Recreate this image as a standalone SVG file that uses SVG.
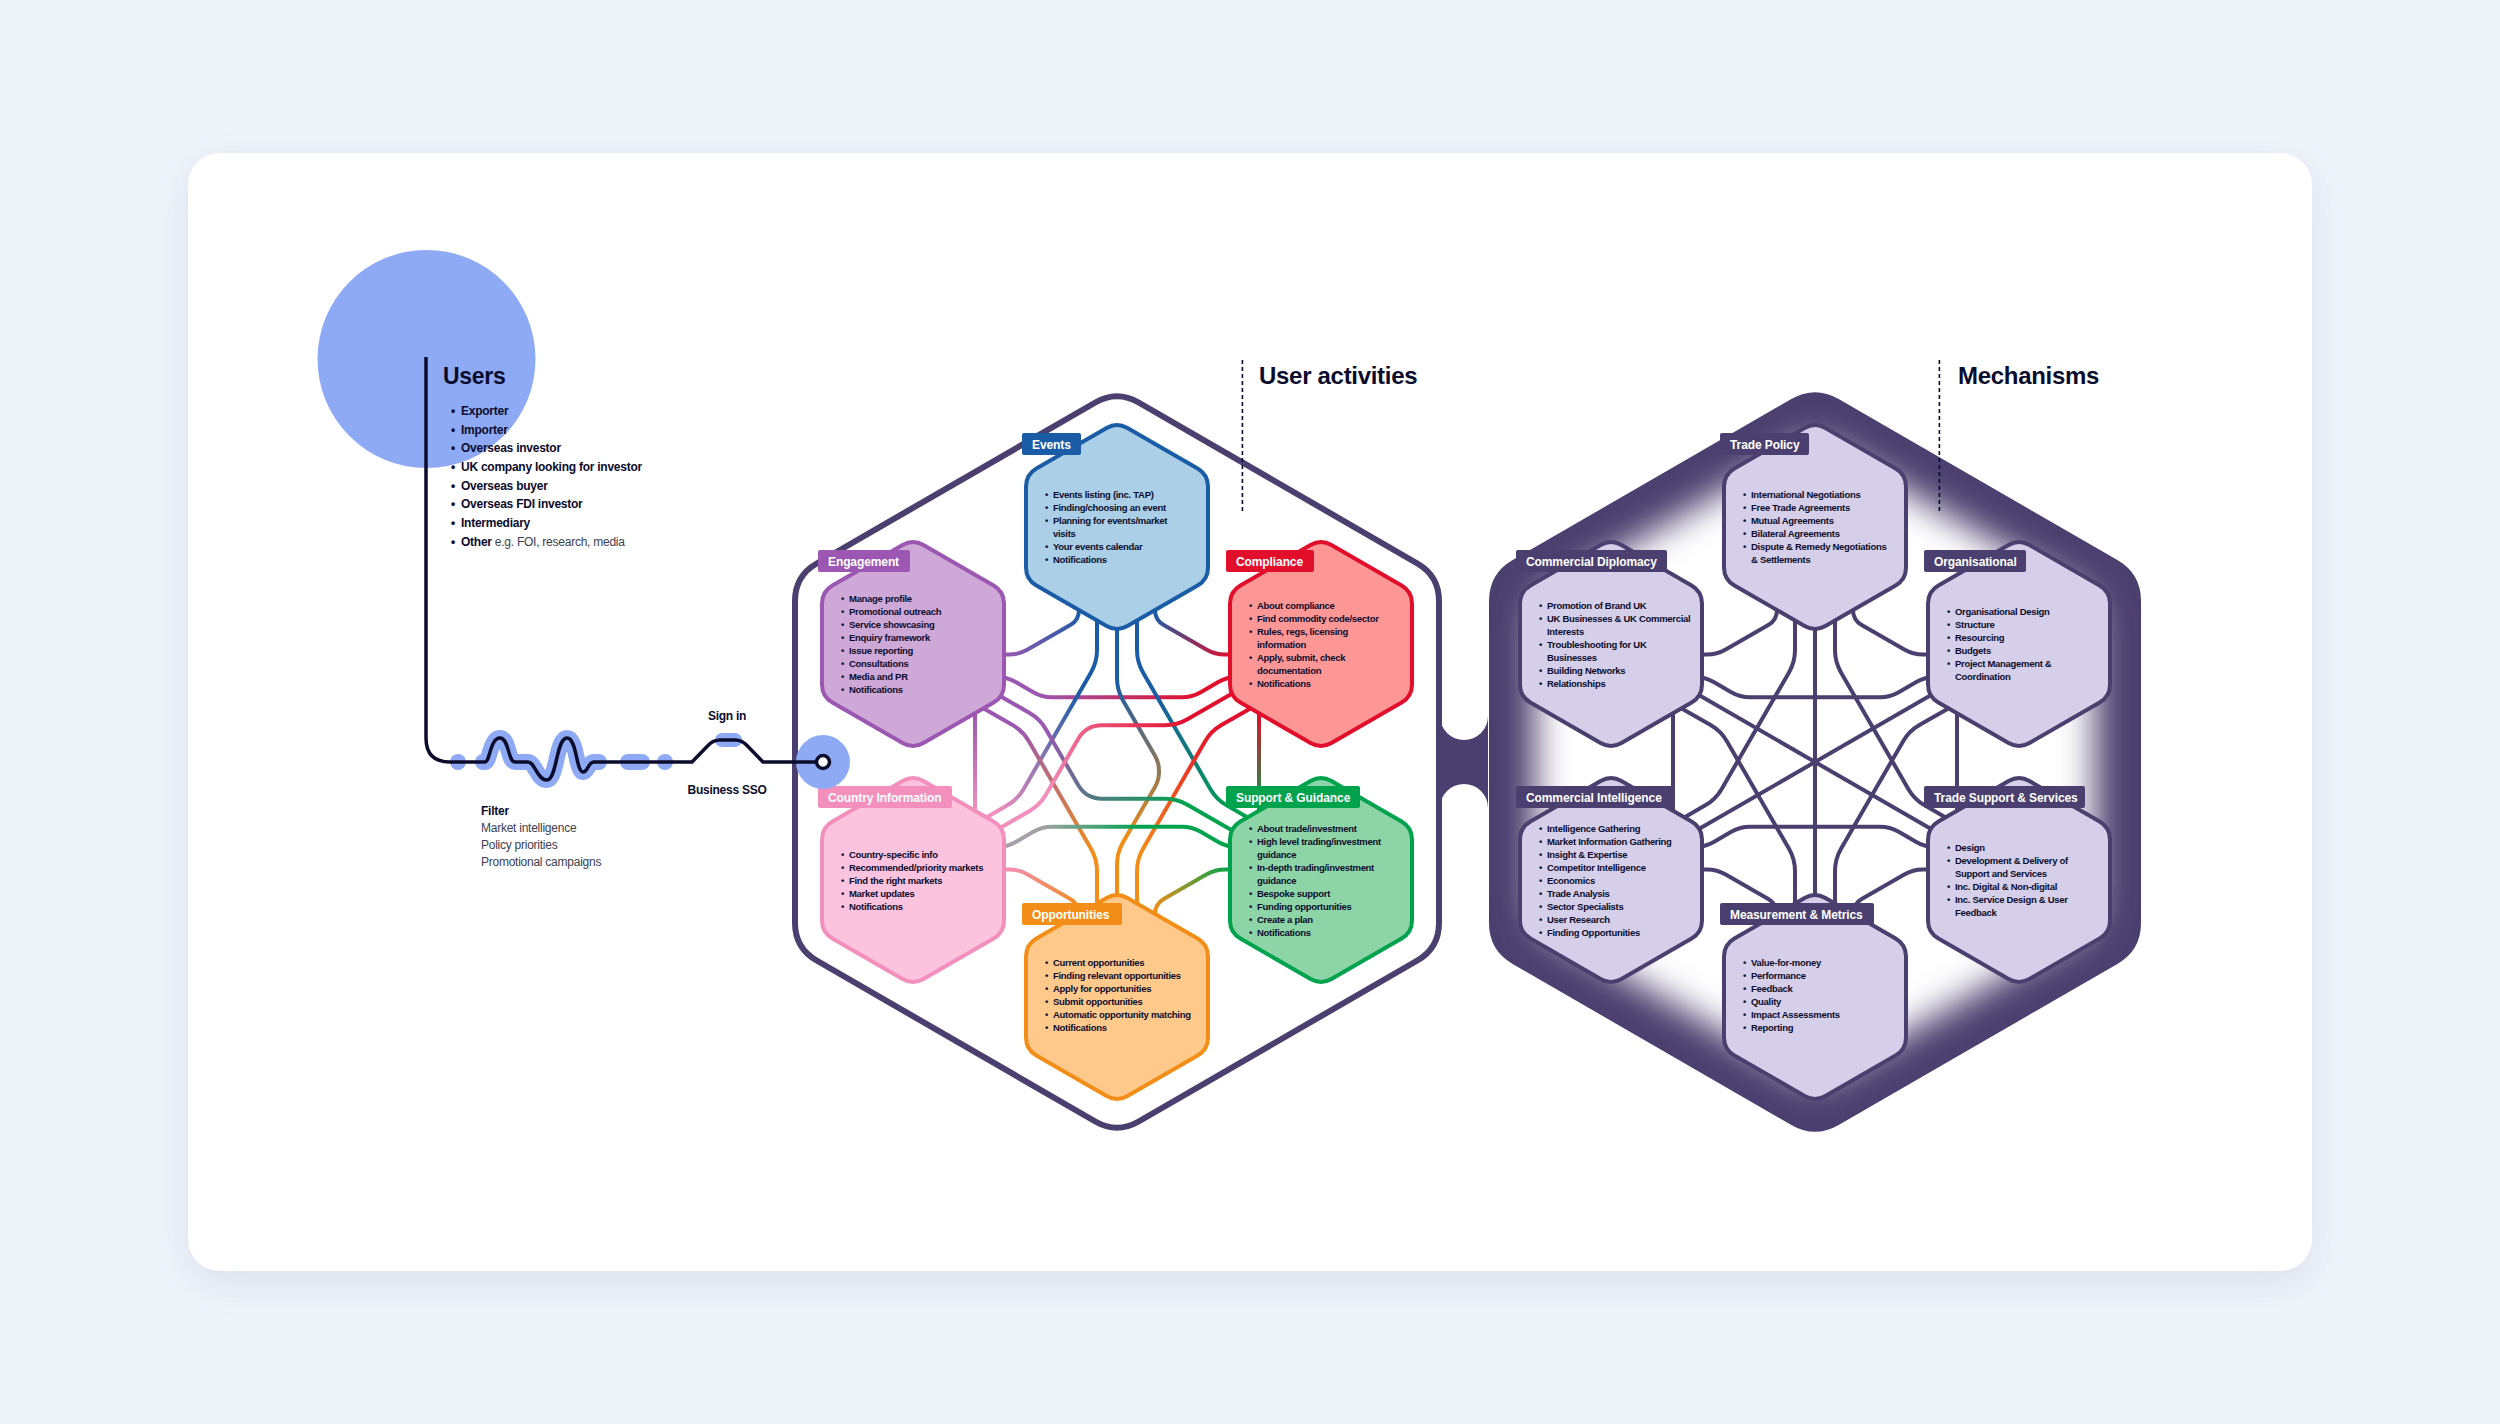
<svg xmlns="http://www.w3.org/2000/svg" width="2500" height="1424" viewBox="0 0 2500 1424">
<defs>
<style>
.it{font-family:"Liberation Sans",Arial,sans-serif;font-size:9.5px;font-weight:700;fill:#0b0c2c;letter-spacing:-0.3px;}
.lb{font-family:"Liberation Sans",Arial,sans-serif;font-size:12px;font-weight:700;fill:#ffffff;letter-spacing:-0.1px;}
.ut{font-family:"Liberation Sans",Arial,sans-serif;font-size:12px;font-weight:700;fill:#0b0c2c;letter-spacing:-0.25px;}
.rg{font-weight:400;fill:#3b3e4f;}
.ttl{font-family:"Liberation Sans",Arial,sans-serif;font-size:24px;font-weight:700;fill:#0b0c2c;letter-spacing:-0.3px;}
.cn{fill:none;stroke-width:4;stroke-linecap:round;stroke-linejoin:round;}
.mc{stroke:#4a3f6e;}
.hxs{stroke-width:4;}
.dash{stroke:#0b0c2c;stroke-width:1.6;stroke-dasharray:4 3;fill:none;}
</style>
<filter id="shadow" x="-5%" y="-5%" width="110%" height="115%"><feDropShadow dx="0" dy="12" stdDeviation="18" flood-color="#7d8db0" flood-opacity="0.18"/></filter>
<filter id="glow" x="-20%" y="-20%" width="140%" height="140%"><feGaussianBlur stdDeviation="20"/></filter>
<path id="hx" d="M-10.4,-99 Q0,-105 10.4,-99 L80.6,-58.5 Q91,-52.5 91,-40.5 L91,40.5 Q91,52.5 80.6,58.5 L10.4,99 Q0,105 -10.4,99 L-80.6,58.5 Q-91,52.5 -91,40.5 L-91,-40.5 Q-91,-52.5 -80.6,-58.5 Z"/>
<path id="bh" d="M-21.65,-359.5 Q0,-372 21.65,-359.5 L300.35,-198.5 Q322,-186 322,-161 L322,161 Q322,186 300.35,198.5 L21.65,359.5 Q0,372 -21.65,359.5 L-300.35,198.5 Q-322,186 -322,161 L-322,-161 Q-322,-186 -300.35,-198.5 Z"/>
<linearGradient id="g1" gradientUnits="userSpaceOnUse" x1="-38" y1="-150" x2="-115" y2="-107"><stop offset="0" stop-color="#1b5ca6"/><stop offset="1" stop-color="#9b57b1"/></linearGradient>
<linearGradient id="g2" gradientUnits="userSpaceOnUse" x1="38" y1="-150" x2="115" y2="-107"><stop offset="0" stop-color="#1b5ca6"/><stop offset="1" stop-color="#e20f2c"/></linearGradient>
<linearGradient id="g3" gradientUnits="userSpaceOnUse" x1="-113" y1="-85" x2="113" y2="-85"><stop offset="0.15" stop-color="#9b57b1"/><stop offset="0.85" stop-color="#e20f2c"/></linearGradient>
<linearGradient id="g4" gradientUnits="userSpaceOnUse" x1="-20" y1="-130" x2="-125" y2="52"><stop offset="0.3" stop-color="#1b5ca6"/><stop offset="1" stop-color="#f38fbd"/></linearGradient>
<linearGradient id="g5" gradientUnits="userSpaceOnUse" x1="20" y1="-130" x2="125" y2="52"><stop offset="0.3" stop-color="#1b5ca6"/><stop offset="1" stop-color="#00a34d"/></linearGradient>
<linearGradient id="g6" gradientUnits="userSpaceOnUse" x1="0" y1="-130" x2="0" y2="130"><stop offset="0.2" stop-color="#1b5ca6"/><stop offset="0.8" stop-color="#f28e17"/></linearGradient>
<linearGradient id="g7" gradientUnits="userSpaceOnUse" x1="-133" y1="-53" x2="-20" y2="130"><stop offset="0.15" stop-color="#9b57b1"/><stop offset="0.85" stop-color="#f28e17"/></linearGradient>
<linearGradient id="g8" gradientUnits="userSpaceOnUse" x1="133" y1="-53" x2="20" y2="130"><stop offset="0.15" stop-color="#e20f2c"/><stop offset="0.85" stop-color="#f28e17"/></linearGradient>
<linearGradient id="g9" gradientUnits="userSpaceOnUse" x1="-110" y1="-62" x2="113" y2="67"><stop offset="0.2" stop-color="#9b57b1"/><stop offset="0.8" stop-color="#00a34d"/></linearGradient>
<linearGradient id="g10" gradientUnits="userSpaceOnUse" x1="-110" y1="62" x2="113" y2="-67"><stop offset="0.2" stop-color="#f38fbd"/><stop offset="0.8" stop-color="#e20f2c"/></linearGradient>
<linearGradient id="g11" gradientUnits="userSpaceOnUse" x1="-113" y1="85" x2="113" y2="85"><stop offset="0.15" stop-color="#a8a0a8"/><stop offset="0.6" stop-color="#00a34d"/></linearGradient>
<linearGradient id="g12" gradientUnits="userSpaceOnUse" x1="-115" y1="107" x2="-38" y2="150"><stop offset="0" stop-color="#f38fbd"/><stop offset="1" stop-color="#f28e17"/></linearGradient>
<linearGradient id="g13" gradientUnits="userSpaceOnUse" x1="115" y1="107" x2="38" y2="150"><stop offset="0" stop-color="#00a34d"/><stop offset="1" stop-color="#f28e17"/></linearGradient>
<linearGradient id="g14" gradientUnits="userSpaceOnUse" x1="-142" y1="-50" x2="-142" y2="50"><stop offset="0" stop-color="#9b57b1"/><stop offset="1" stop-color="#f38fbd"/></linearGradient>
<linearGradient id="g15" gradientUnits="userSpaceOnUse" x1="142" y1="-50" x2="142" y2="50"><stop offset="0" stop-color="#e20f2c"/><stop offset="1" stop-color="#00a34d"/></linearGradient>
</defs>

<rect width="2500" height="1424" fill="#eff3fa"/>
<rect x="188" y="153" width="2124" height="1118" rx="32" fill="#ffffff" filter="url(#shadow)"/>

<!-- big hexagons -->
<g id="user-activities-frame">
<use href="#bh" x="1117" y="762" fill="#ffffff" stroke="#4a3f6e" stroke-width="6"/>
</g>
<g id="mechanisms-frame">
<use href="#bh" x="1815" y="762" fill="#4a3f6e" stroke="#4a3f6e" stroke-width="8"/>
<use href="#bh" transform="translate(1815,762) scale(0.87)" fill="#ffffff" filter="url(#glow)"/>
<path d="M1440,716 A24,24 0 0 0 1488,716 L1488,808 A24,24 0 0 0 1440,808 Z" fill="#4a3f6e"/>
</g>

<!-- connectors -->
<g id="connectors">
<g transform="translate(1117,762)">
<path class="cn" stroke="url(#g1)" d="M-38,-160 L-38,-152 Q-38,-142 -46.7,-137 L-89.3,-112.4 Q-98,-107.4 -108,-107.4 L-130,-107.4"/>
<path class="cn" stroke="url(#g2)" d="M38,-160 L38,-152 Q38,-142 46.7,-137 L89.3,-112.4 Q98,-107.4 108,-107.4 L130,-107.4"/>
<path class="cn" stroke="url(#g3)" d="M-130,-85 L-120,-85 Q-110,-85 -101.3,-80 L-83.7,-69.8 Q-75,-64.8 -65,-64.8 L65,-64.8 Q75,-64.8 83.7,-69.8 L101.3,-80 Q110,-85 120,-85 L130,-85"/>
<path class="cn" stroke="url(#g4)" d="M-20,-160 L-20,-112 Q-20,-100 -26,-89.6 L-93.3,26.9 Q-99.3,37.3 -109.7,43.3 L-135,58"/>
<path class="cn" stroke="url(#g5)" d="M20,-160 L20,-112 Q20,-100 26,-89.6 L93.3,26.9 Q99.3,37.3 109.7,43.3 L135,58"/>
<path class="cn" stroke="url(#g6)" d="M0,-160 L0,-84 Q0,-72 6,-61.6 L38,-6.2 Q42,0.7 42,8.7 L42,10 Q42,18 38,24.9 L6,80.3 Q0,90.7 0,102.7 L0,160"/>
<path class="cn" stroke="url(#g7)" d="M-150,-63 L-104.4,-37 Q-94,-31 -88,-20.6 L-26,86.8 Q-20,97.2 -20,109.2 L-20,160"/>
<path class="cn" stroke="url(#g8)" d="M150,-63 L104.4,-37 Q94,-31 88,-20.6 L26,86.8 Q20,97.2 20,109.2 L20,160"/>
<path class="cn" stroke="url(#g9)" d="M-130,-73.5 L-87.4,-49 Q-77,-43 -71,-32.6 L-39,22.8 Q-31,36.7 -15,36.7 L48,36.7 Q60,36.7 70.4,42.7 L130,77"/>
<path class="cn" stroke="url(#g10)" d="M-130,73.5 L-87.4,49 Q-77,43 -71,32.6 L-39,-22.8 Q-31,-36.7 -15,-36.7 L48,-36.7 Q60,-36.7 70.4,-42.7 L130,-77"/>
<path class="cn" stroke="url(#g11)" d="M-130,85 L-120,85 Q-110,85 -101.3,80 L-83.7,69.8 Q-75,64.8 -65,64.8 L65,64.8 Q75,64.8 83.7,69.8 L101.3,80 Q110,85 120,85 L130,85"/>
<path class="cn" stroke="url(#g12)" d="M-38,160 L-38,152 Q-38,142 -46.7,137 L-89.3,112.4 Q-98,107.4 -108,107.4 L-130,107.4"/>
<path class="cn" stroke="url(#g13)" d="M38,160 L38,152 Q38,142 46.7,137 L89.3,112.4 Q98,107.4 108,107.4 L130,107.4"/>
<path class="cn" stroke="url(#g14)" d="M-142,-60 L-142,60"/>
<path class="cn" stroke="url(#g15)" d="M142,-60 L142,60"/>
</g>
<g transform="translate(1815,762)">
<path class="cn mc" d="M-38,-160 L-38,-152 Q-38,-142 -46.7,-137 L-89.3,-112.4 Q-98,-107.4 -108,-107.4 L-130,-107.4"/>
<path class="cn mc" d="M38,-160 L38,-152 Q38,-142 46.7,-137 L89.3,-112.4 Q98,-107.4 108,-107.4 L130,-107.4"/>
<path class="cn mc" d="M-130,-85 L-120,-85 Q-110,-85 -101.3,-80 L-83.7,-69.8 Q-75,-64.8 -65,-64.8 L65,-64.8 Q75,-64.8 83.7,-69.8 L101.3,-80 Q110,-85 120,-85 L130,-85"/>
<path class="cn mc" d="M-20,-160 L-20,-112 Q-20,-100 -26,-89.6 L-93.3,26.9 Q-99.3,37.3 -109.7,43.3 L-135,58"/>
<path class="cn mc" d="M20,-160 L20,-112 Q20,-100 26,-89.6 L93.3,26.9 Q99.3,37.3 109.7,43.3 L135,58"/>
<path class="cn mc" d="M0,-160 L0,160"/>
<path class="cn mc" d="M-150,-63 L-104.4,-37 Q-94,-31 -88,-20.6 L-26,86.8 Q-20,97.2 -20,109.2 L-20,160"/>
<path class="cn mc" d="M150,-63 L104.4,-37 Q94,-31 88,-20.6 L26,86.8 Q20,97.2 20,109.2 L20,160"/>
<path class="cn mc" d="M-130,-75 L130,75"/>
<path class="cn mc" d="M-130,75 L130,-75"/>
<path class="cn mc" d="M-130,85 L-120,85 Q-110,85 -101.3,80 L-83.7,69.8 Q-75,64.8 -65,64.8 L65,64.8 Q75,64.8 83.7,69.8 L101.3,80 Q110,85 120,85 L130,85"/>
<path class="cn mc" d="M-38,160 L-38,152 Q-38,142 -46.7,137 L-89.3,112.4 Q-98,107.4 -108,107.4 L-130,107.4"/>
<path class="cn mc" d="M38,160 L38,152 Q38,142 46.7,137 L89.3,112.4 Q98,107.4 108,107.4 L130,107.4"/>
<path class="cn mc" d="M-142,-60 L-142,60"/>
<path class="cn mc" d="M142,-60 L142,60"/>
</g>
</g>

<!-- user activities nodes -->
<g id="events">
<use href="#hx" x="1117" y="527" fill="#aacfe6" stroke="#1b5ca6" class="hxs"/>
<rect x="1022" y="433" width="59" height="22" rx="2" fill="#1b5ca6"/>
<text class="lb" x="1032" y="448.5">Events</text>
<text class="it"><tspan x="1045" y="498">•</tspan><tspan x="1053">Events listing (inc. TAP)</tspan><tspan x="1045" y="511">•</tspan><tspan x="1053">Finding/choosing an event</tspan><tspan x="1045" y="524">•</tspan><tspan x="1053">Planning for events/market</tspan><tspan x="1053" y="537">visits</tspan><tspan x="1045" y="550">•</tspan><tspan x="1053">Your events calendar</tspan><tspan x="1045" y="563">•</tspan><tspan x="1053">Notifications</tspan></text>
</g>
<g id="engagement">
<use href="#hx" x="913" y="644" fill="#cea8d6" stroke="#9b57b1" class="hxs"/>
<rect x="818" y="550" width="92" height="22" rx="2" fill="#9b57b1"/>
<text class="lb" x="828" y="565.5">Engagement</text>
<text class="it"><tspan x="841" y="602">•</tspan><tspan x="849">Manage profile</tspan><tspan x="841" y="615">•</tspan><tspan x="849">Promotional outreach</tspan><tspan x="841" y="628">•</tspan><tspan x="849">Service showcasing</tspan><tspan x="841" y="641">•</tspan><tspan x="849">Enquiry framework</tspan><tspan x="841" y="654">•</tspan><tspan x="849">Issue reporting</tspan><tspan x="841" y="667">•</tspan><tspan x="849">Consultations</tspan><tspan x="841" y="680">•</tspan><tspan x="849">Media and PR</tspan><tspan x="841" y="693">•</tspan><tspan x="849">Notifications</tspan></text>
</g>
<g id="compliance">
<use href="#hx" x="1321" y="644" fill="#fd9796" stroke="#e20f2c" class="hxs"/>
<rect x="1226" y="550" width="88" height="22" rx="2" fill="#e20f2c"/>
<text class="lb" x="1236" y="565.5">Compliance</text>
<text class="it"><tspan x="1249" y="608.5">•</tspan><tspan x="1257">About compliance</tspan><tspan x="1249" y="621.5">•</tspan><tspan x="1257">Find commodity code/sector</tspan><tspan x="1249" y="634.5">•</tspan><tspan x="1257">Rules, regs, licensing</tspan><tspan x="1257" y="647.5">information</tspan><tspan x="1249" y="660.5">•</tspan><tspan x="1257">Apply, submit, check</tspan><tspan x="1257" y="673.5">documentation</tspan><tspan x="1249" y="686.5">•</tspan><tspan x="1257">Notifications</tspan></text>
</g>
<g id="country-information">
<use href="#hx" x="913" y="880" fill="#fbc3dd" stroke="#f38fbd" class="hxs"/>
<rect x="818" y="786" width="134" height="22" rx="2" fill="#f38fbd"/>
<text class="lb" x="828" y="801.5">Country Information</text>
<text class="it"><tspan x="841" y="857.5">•</tspan><tspan x="849">Country-specific info</tspan><tspan x="841" y="870.5">•</tspan><tspan x="849">Recommended/priority markets</tspan><tspan x="841" y="883.5">•</tspan><tspan x="849">Find the right markets</tspan><tspan x="841" y="896.5">•</tspan><tspan x="849">Market updates</tspan><tspan x="841" y="909.5">•</tspan><tspan x="849">Notifications</tspan></text>
</g>
<g id="support-guidance">
<use href="#hx" x="1321" y="880" fill="#8dd4a7" stroke="#00a34d" class="hxs"/>
<rect x="1226" y="786" width="134" height="22" rx="2" fill="#00a34d"/>
<text class="lb" x="1236" y="801.5">Support &amp; Guidance</text>
<text class="it"><tspan x="1249" y="831.5">•</tspan><tspan x="1257">About trade/investment</tspan><tspan x="1249" y="844.5">•</tspan><tspan x="1257">High level trading/investment</tspan><tspan x="1257" y="857.5">guidance</tspan><tspan x="1249" y="870.5">•</tspan><tspan x="1257">In-depth trading/investment</tspan><tspan x="1257" y="883.5">guidance</tspan><tspan x="1249" y="896.5">•</tspan><tspan x="1257">Bespoke support</tspan><tspan x="1249" y="909.5">•</tspan><tspan x="1257">Funding opportunities</tspan><tspan x="1249" y="922.5">•</tspan><tspan x="1257">Create a plan</tspan><tspan x="1249" y="935.5">•</tspan><tspan x="1257">Notifications</tspan></text>
</g>
<g id="opportunities">
<use href="#hx" x="1117" y="997" fill="#fec98b" stroke="#f28e17" class="hxs"/>
<rect x="1022" y="903" width="100" height="22" rx="2" fill="#f28e17"/>
<text class="lb" x="1032" y="918.5">Opportunities</text>
<text class="it"><tspan x="1045" y="966">•</tspan><tspan x="1053">Current opportunities</tspan><tspan x="1045" y="979">•</tspan><tspan x="1053">Finding relevant opportunities</tspan><tspan x="1045" y="992">•</tspan><tspan x="1053">Apply for opportunities</tspan><tspan x="1045" y="1005">•</tspan><tspan x="1053">Submit opportunities</tspan><tspan x="1045" y="1018">•</tspan><tspan x="1053">Automatic opportunity matching</tspan><tspan x="1045" y="1031">•</tspan><tspan x="1053">Notifications</tspan></text>
</g>

<!-- mechanisms nodes -->
<g id="trade-policy">
<use href="#hx" x="1815" y="527" fill="#d5cfe9" stroke="#4a3f6e" class="hxs"/>
<rect x="1720" y="433" width="89" height="22" rx="2" fill="#4a3f6e"/>
<text class="lb" x="1730" y="448.5">Trade Policy</text>
<text class="it"><tspan x="1743" y="498">•</tspan><tspan x="1751">International Negotiations</tspan><tspan x="1743" y="511">•</tspan><tspan x="1751">Free Trade Agreements</tspan><tspan x="1743" y="524">•</tspan><tspan x="1751">Mutual Agreements</tspan><tspan x="1743" y="537">•</tspan><tspan x="1751">Bilateral Agreements</tspan><tspan x="1743" y="550">•</tspan><tspan x="1751">Dispute &amp; Remedy Negotiations</tspan><tspan x="1751" y="563">&amp; Settlements</tspan></text>
</g>
<g id="commercial-diplomacy">
<use href="#hx" x="1611" y="644" fill="#d5cfe9" stroke="#4a3f6e" class="hxs"/>
<rect x="1516" y="550" width="151" height="22" rx="2" fill="#4a3f6e"/>
<text class="lb" x="1526" y="565.5">Commercial Diplomacy</text>
<text class="it"><tspan x="1539" y="608.5">•</tspan><tspan x="1547">Promotion of Brand UK</tspan><tspan x="1539" y="621.5">•</tspan><tspan x="1547">UK Businesses &amp; UK Commercial</tspan><tspan x="1547" y="634.5">Interests</tspan><tspan x="1539" y="647.5">•</tspan><tspan x="1547">Troubleshooting for UK</tspan><tspan x="1547" y="660.5">Businesses</tspan><tspan x="1539" y="673.5">•</tspan><tspan x="1547">Building Networks</tspan><tspan x="1539" y="686.5">•</tspan><tspan x="1547">Relationships</tspan></text>
</g>
<g id="organisational">
<use href="#hx" x="2019" y="644" fill="#d5cfe9" stroke="#4a3f6e" class="hxs"/>
<rect x="1924" y="550" width="102" height="22" rx="2" fill="#4a3f6e"/>
<text class="lb" x="1934" y="565.5">Organisational</text>
<text class="it"><tspan x="1947" y="615">•</tspan><tspan x="1955">Organisational Design</tspan><tspan x="1947" y="628">•</tspan><tspan x="1955">Structure</tspan><tspan x="1947" y="641">•</tspan><tspan x="1955">Resourcing</tspan><tspan x="1947" y="654">•</tspan><tspan x="1955">Budgets</tspan><tspan x="1947" y="667">•</tspan><tspan x="1955">Project Management &amp;</tspan><tspan x="1955" y="680">Coordination</tspan></text>
</g>
<g id="commercial-intelligence">
<use href="#hx" x="1611" y="880" fill="#d5cfe9" stroke="#4a3f6e" class="hxs"/>
<rect x="1516" y="786" width="157" height="22" rx="2" fill="#4a3f6e"/>
<text class="lb" x="1526" y="801.5">Commercial Intelligence</text>
<text class="it"><tspan x="1539" y="831.5">•</tspan><tspan x="1547">Intelligence Gathering</tspan><tspan x="1539" y="844.5">•</tspan><tspan x="1547">Market Information Gathering</tspan><tspan x="1539" y="857.5">•</tspan><tspan x="1547">Insight &amp; Expertise</tspan><tspan x="1539" y="870.5">•</tspan><tspan x="1547">Competitor Intelligence</tspan><tspan x="1539" y="883.5">•</tspan><tspan x="1547">Economics</tspan><tspan x="1539" y="896.5">•</tspan><tspan x="1547">Trade Analysis</tspan><tspan x="1539" y="909.5">•</tspan><tspan x="1547">Sector Specialists</tspan><tspan x="1539" y="922.5">•</tspan><tspan x="1547">User Research</tspan><tspan x="1539" y="935.5">•</tspan><tspan x="1547">Finding Opportunities</tspan></text>
</g>
<g id="trade-support-services">
<use href="#hx" x="2019" y="880" fill="#d5cfe9" stroke="#4a3f6e" class="hxs"/>
<rect x="1924" y="786" width="161" height="22" rx="2" fill="#4a3f6e"/>
<text class="lb" x="1934" y="801.5">Trade Support &amp; Services</text>
<text class="it"><tspan x="1947" y="851">•</tspan><tspan x="1955">Design</tspan><tspan x="1947" y="864">•</tspan><tspan x="1955">Development &amp; Delivery of</tspan><tspan x="1955" y="877">Support and Services</tspan><tspan x="1947" y="890">•</tspan><tspan x="1955">Inc. Digital &amp; Non-digital</tspan><tspan x="1947" y="903">•</tspan><tspan x="1955">Inc. Service Design &amp; User</tspan><tspan x="1955" y="916">Feedback</tspan></text>
</g>
<g id="measurement-metrics">
<use href="#hx" x="1815" y="997" fill="#d5cfe9" stroke="#4a3f6e" class="hxs"/>
<rect x="1720" y="903" width="154" height="22" rx="2" fill="#4a3f6e"/>
<text class="lb" x="1730" y="918.5">Measurement &amp; Metrics</text>
<text class="it"><tspan x="1743" y="966">•</tspan><tspan x="1751">Value-for-money</tspan><tspan x="1743" y="979">•</tspan><tspan x="1751">Performance</tspan><tspan x="1743" y="992">•</tspan><tspan x="1751">Feedback</tspan><tspan x="1743" y="1005">•</tspan><tspan x="1751">Quality</tspan><tspan x="1743" y="1018">•</tspan><tspan x="1751">Impact Assessments</tspan><tspan x="1743" y="1031">•</tspan><tspan x="1751">Reporting</tspan></text>
</g>

<!-- users -->
<g id="users">
<circle cx="426.5" cy="359" r="109" fill="#8eaaf5"/>
<text class="ttl" x="443" y="383.5" style="font-size:23px">Users</text>
<text class="ut"><tspan x="451" y="415">•</tspan><tspan x="461">Exporter</tspan><tspan x="451" y="433.6">•</tspan><tspan x="461">Importer</tspan><tspan x="451" y="452.3">•</tspan><tspan x="461">Overseas investor</tspan><tspan x="451" y="471">•</tspan><tspan x="461">UK company looking for investor</tspan><tspan x="451" y="489.6">•</tspan><tspan x="461">Overseas buyer</tspan><tspan x="451" y="508.3">•</tspan><tspan x="461">Overseas FDI investor</tspan><tspan x="451" y="527">•</tspan><tspan x="461">Intermediary</tspan><tspan x="451" y="545.6">•</tspan><tspan x="461">Other</tspan><tspan class="rg"> e.g. FOI, research, media</tspan></text>
</g>
<g id="journey">
<circle cx="458" cy="762" r="8" fill="#8eaaf5"/>
<path d="M483,762 L485,762 C490,762 490,738 500,738 C509,738 508,762 515,762 L528,762 C535,762 537,780 547,780 C557,780 556,738 567,738 C577,738 576,772 583,772 C588,772 588,762 594,762 L599,762" fill="none" stroke="#8eaaf5" stroke-width="16" stroke-linecap="round" stroke-linejoin="round"/>
<path d="M628,762 L642,762" stroke="#8eaaf5" stroke-width="16" stroke-linecap="round"/>
<circle cx="665" cy="762" r="8" fill="#8eaaf5"/>
<path d="M722,740 L735,740" stroke="#8eaaf5" stroke-width="14" stroke-linecap="round"/>
<circle cx="823" cy="762" r="27" fill="#8eaaf5"/>
<path d="M426,357 V738 Q426,762 450,762 L485,762 C490,762 490,738 500,738 C509,738 508,762 515,762 L528,762 C535,762 537,780 547,780 C557,780 556,738 567,738 C577,738 576,772 583,772 C588,772 588,762 594,762 L692,762 L708,745.5 Q713,740 720,740 L735,740 Q742,740 747,745.5 L763,762 L816,762" fill="none" stroke="#0b0c2c" stroke-width="3.5" stroke-linejoin="round"/>
<circle cx="823" cy="762" r="6.5" fill="#ffffff" stroke="#0b0c2c" stroke-width="3.5"/>
<text class="ut" x="727" y="719.5" text-anchor="middle">Sign in</text>
<text class="ut" x="727" y="794" text-anchor="middle">Business SSO</text>
<text class="ut"><tspan x="481" y="815">Filter</tspan><tspan class="rg" x="481" y="831.6">Market intelligence</tspan><tspan class="rg" x="481" y="848.6">Policy priorities</tspan><tspan class="rg" x="481" y="866">Promotional campaigns</tspan></text>
</g>

<!-- section titles -->
<g id="titles">
<path class="dash" d="M1242.4,360 V511"/>
<text class="ttl" x="1259" y="383.5">User activities</text>
<path class="dash" d="M1939.4,360 V511"/>
<text class="ttl" x="1958" y="383.5">Mechanisms</text>
</g>
</svg>
